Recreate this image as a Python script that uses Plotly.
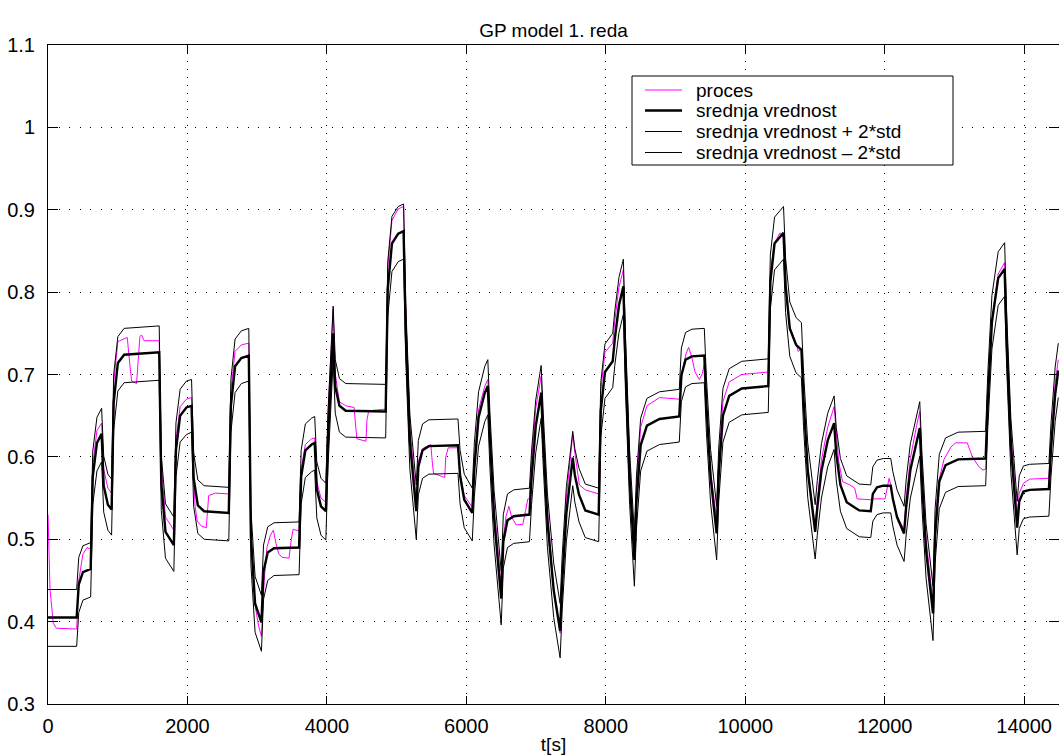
import plotly.graph_objects as go

# ---- time axis [s] shared by the three model curves (mean, mean +/- 2*std) ----
t_model = [
    0, 411,
    441, 501, 612,
    642, 702, 769,
    799, 859, 912,
    942, 1002, 1092, 1595,
    1625, 1685, 1805,
    1835, 1895, 1985, 2059,
    2089, 2149, 2239, 2593,
    2623, 2683, 2773, 2880,
    2910, 2970, 3061,
    3091, 3151, 3241, 3601,
    3631, 3691, 3781, 3825,
    3855, 3915, 3985,
    4015, 4075, 4090,
    4120, 4180, 4270, 4843,
    4873, 4933, 5023, 5100,
    5130, 5190, 5282,
    5312, 5372, 5462, 5880,
    5910, 5970, 6085,
    6115, 6175, 6265, 6308,
    6338, 6398, 6500,
    6530, 6590, 6680, 6905,
    6935, 6995, 7073,
    7103, 7163, 7253, 7345,
    7375, 7435, 7526,
    7556, 7616, 7706, 7898,
    7928, 7988, 8099,
    8129, 8189, 8252,
    8282, 8342, 8410,
    8440, 8500, 8590, 8770, 9054,
    9084, 9144, 9234, 9413,
    9443, 9503, 9590,
    9620, 9680, 9770, 9950, 10330,
    10360, 10420, 10549,
    10579, 10639, 10729, 10806,
    10836, 10896, 11003,
    11033, 11093, 11183, 11275,
    11305, 11365, 11455, 11635, 11800,
    11830, 11890, 11980, 12087,
    12117, 12177, 12278,
    12308, 12368, 12458, 12503,
    12533, 12593, 12693,
    12723, 12783, 12873, 13053, 13448,
    13478, 13538, 13628, 13720,
    13750, 13810, 13900,
    13930, 13990, 14080, 14355,
    14385, 14445, 14490,
]

# ---- srednja vrednost (model mean) ----
y_mean = [
    0.405, 0.405,
    0.445, 0.460, 0.464,
    0.576, 0.617, 0.628,
    0.565, 0.542, 0.536,
    0.666, 0.714, 0.724, 0.727,
    0.568, 0.509, 0.493,
    0.608, 0.650, 0.660, 0.662,
    0.574, 0.541, 0.534, 0.532,
    0.662, 0.710, 0.720, 0.723,
    0.503, 0.422, 0.399,
    0.461, 0.484, 0.489, 0.490,
    0.576, 0.608, 0.615, 0.617,
    0.561, 0.540, 0.534,
    0.620, 0.728, 0.750,
    0.685, 0.662, 0.656, 0.655,
    0.804, 0.859, 0.871, 0.874,
    0.755, 0.619, 0.534,
    0.588, 0.608, 0.613, 0.614,
    0.577, 0.548, 0.532,
    0.586, 0.648, 0.678, 0.686,
    0.622, 0.526, 0.428,
    0.497, 0.523, 0.528, 0.530,
    0.574, 0.637, 0.678,
    0.620, 0.522, 0.438, 0.389,
    0.448, 0.532, 0.599,
    0.578, 0.554, 0.535, 0.530,
    0.656, 0.703, 0.716,
    0.743, 0.784, 0.807,
    0.714, 0.575, 0.475,
    0.545, 0.614, 0.638, 0.646, 0.649,
    0.699, 0.718, 0.722, 0.723,
    0.663, 0.576, 0.507,
    0.579, 0.650, 0.674, 0.683, 0.686,
    0.812, 0.859, 0.872,
    0.808, 0.756, 0.736, 0.730,
    0.670, 0.584, 0.509,
    0.538, 0.583, 0.620, 0.641,
    0.604, 0.566, 0.545, 0.535, 0.534,
    0.555, 0.563, 0.565, 0.565,
    0.549, 0.527, 0.507,
    0.539, 0.584, 0.620, 0.635,
    0.574, 0.487, 0.410,
    0.504, 0.570, 0.590, 0.597, 0.598,
    0.667, 0.764, 0.817, 0.828,
    0.740, 0.614, 0.514,
    0.546, 0.558, 0.560, 0.561,
    0.609, 0.676, 0.705,
]

# ---- srednja vrednost + 2*std ----
y_upper = [
    0.439, 0.439,
    0.478, 0.492, 0.496,
    0.607, 0.648, 0.659,
    0.601, 0.579, 0.573,
    0.700, 0.746, 0.756, 0.759,
    0.601, 0.543, 0.527,
    0.641, 0.682, 0.692, 0.694,
    0.605, 0.572, 0.565, 0.563,
    0.694, 0.743, 0.753, 0.756,
    0.536, 0.455, 0.432,
    0.493, 0.515, 0.520, 0.521,
    0.608, 0.640, 0.647, 0.649,
    0.594, 0.574, 0.568,
    0.654, 0.762, 0.783,
    0.718, 0.695, 0.689, 0.688,
    0.837, 0.892, 0.904, 0.907,
    0.788, 0.651, 0.566,
    0.620, 0.640, 0.645, 0.646,
    0.608, 0.579, 0.562,
    0.617, 0.679, 0.710, 0.718,
    0.654, 0.559, 0.461,
    0.530, 0.555, 0.560, 0.562,
    0.607, 0.669, 0.711,
    0.653, 0.555, 0.471, 0.422,
    0.481, 0.564, 0.631,
    0.610, 0.586, 0.567, 0.562,
    0.690, 0.737, 0.750,
    0.777, 0.818, 0.840,
    0.747, 0.607, 0.507,
    0.577, 0.647, 0.671, 0.679, 0.682,
    0.732, 0.751, 0.755, 0.756,
    0.696, 0.609, 0.540,
    0.612, 0.683, 0.707, 0.716, 0.719,
    0.845, 0.891, 0.904,
    0.841, 0.788, 0.769, 0.763,
    0.703, 0.617, 0.542,
    0.571, 0.616, 0.653, 0.674,
    0.636, 0.598, 0.577, 0.567, 0.566,
    0.588, 0.596, 0.598, 0.598,
    0.582, 0.560, 0.540,
    0.572, 0.616, 0.652, 0.667,
    0.607, 0.519, 0.443,
    0.537, 0.603, 0.623, 0.630, 0.631,
    0.700, 0.796, 0.849, 0.860,
    0.772, 0.646, 0.546,
    0.577, 0.589, 0.591, 0.592,
    0.640, 0.709, 0.738,
]

# ---- srednja vrednost - 2*std ----
y_lower = [
    0.370, 0.370,
    0.411, 0.426, 0.430,
    0.542, 0.583, 0.594,
    0.533, 0.511, 0.505,
    0.633, 0.680, 0.690, 0.693,
    0.535, 0.477, 0.461,
    0.576, 0.618, 0.627, 0.630,
    0.540, 0.507, 0.500, 0.498,
    0.630, 0.678, 0.689, 0.692,
    0.469, 0.387, 0.364,
    0.427, 0.450, 0.456, 0.457,
    0.543, 0.575, 0.582, 0.584,
    0.526, 0.505, 0.499,
    0.587, 0.696, 0.718,
    0.653, 0.630, 0.624, 0.623,
    0.771, 0.825, 0.837, 0.840,
    0.721, 0.585, 0.500,
    0.554, 0.574, 0.579, 0.580,
    0.543, 0.514, 0.498,
    0.552, 0.613, 0.643, 0.651,
    0.587, 0.493, 0.396,
    0.465, 0.490, 0.495, 0.497,
    0.542, 0.605, 0.647,
    0.589, 0.490, 0.405, 0.356,
    0.415, 0.498, 0.565,
    0.545, 0.521, 0.502, 0.497,
    0.624, 0.671, 0.684,
    0.711, 0.751, 0.773,
    0.681, 0.542, 0.443,
    0.513, 0.583, 0.607, 0.615, 0.618,
    0.667, 0.685, 0.689, 0.690,
    0.630, 0.544, 0.475,
    0.547, 0.618, 0.642, 0.651, 0.654,
    0.780, 0.827, 0.840,
    0.775, 0.722, 0.702, 0.696,
    0.637, 0.551, 0.476,
    0.505, 0.550, 0.588, 0.609,
    0.572, 0.534, 0.513, 0.503, 0.502,
    0.522, 0.530, 0.532, 0.532,
    0.516, 0.493, 0.473,
    0.505, 0.550, 0.586, 0.601,
    0.541, 0.453, 0.377,
    0.471, 0.537, 0.557, 0.564, 0.565,
    0.634, 0.731, 0.784, 0.795,
    0.707, 0.581, 0.481,
    0.513, 0.525, 0.527, 0.528,
    0.576, 0.643, 0.672,
]

# ---- proces (measured process output) ----
t_proc = [
    0, 29, 76, 120, 411,
    441, 501, 560, 612,
    642, 702, 769,
    799, 859, 912,
    942, 1002, 1137, 1170, 1200, 1270, 1300, 1318, 1340, 1380, 1595,
    1625, 1685, 1805,
    1835, 1895, 1985, 2059,
    2085, 2110, 2140, 2200, 2270, 2290, 2305, 2400, 2593,
    2623, 2683, 2773, 2880,
    2910, 2970, 3020, 3061,
    3100, 3140, 3190, 3232, 3270, 3310, 3360, 3457, 3490, 3515, 3601,
    3631, 3691, 3781, 3825,
    3855, 3915, 3985,
    4015, 4075, 4090,
    4120, 4180, 4270, 4390, 4410, 4430, 4560, 4575, 4600, 4843,
    4873, 4933, 5023, 5100,
    5130, 5190, 5282,
    5312, 5372, 5490, 5510, 5530, 5690, 5705, 5740, 5880,
    5910, 5970, 6085,
    6115, 6175, 6265, 6308,
    6338, 6398, 6500,
    6530, 6570, 6610, 6650, 6715, 6810, 6850, 6882, 6905,
    6935, 6995, 7073,
    7103, 7163, 7253, 7345,
    7375, 7435, 7526,
    7556, 7621, 7706, 7898,
    7928, 7988, 8099,
    8129, 8189, 8252,
    8282, 8342, 8410,
    8440, 8500, 8590, 8770, 9054,
    9100, 9150, 9188, 9230, 9280, 9341, 9380, 9413,
    9443, 9503, 9590,
    9620, 9680, 9770, 9950, 10330,
    10360, 10420, 10500, 10549,
    10579, 10639, 10729, 10760, 10806,
    10836, 10896, 11003,
    11033, 11093, 11183, 11275,
    11305, 11340, 11395, 11500, 11570, 11605, 11800,
    11830, 12005, 12030, 12063, 12087,
    12117, 12177, 12278,
    12308, 12368, 12458, 12503,
    12533, 12593, 12693,
    12723, 12779, 12851, 12950, 13019, 13185, 13257, 13352, 13410, 13448,
    13478, 13538, 13628, 13720,
    13750, 13810, 13900,
    13930, 13990, 14080, 14355,
    14385, 14445, 14490,
]
y_proc = [
    0.530, 0.439, 0.398, 0.392, 0.391,
    0.450, 0.482, 0.490, 0.488,
    0.590, 0.632, 0.641,
    0.585, 0.562, 0.556,
    0.690, 0.740, 0.745, 0.715, 0.692, 0.689, 0.720, 0.746, 0.748, 0.741, 0.741,
    0.589, 0.527, 0.511,
    0.620, 0.661, 0.670, 0.672,
    0.585, 0.540, 0.522, 0.516, 0.514, 0.535, 0.553, 0.556, 0.555,
    0.680, 0.728, 0.736, 0.738,
    0.510, 0.420, 0.395, 0.382,
    0.450, 0.490, 0.505, 0.511, 0.495, 0.482, 0.478, 0.477, 0.500, 0.512, 0.510,
    0.585, 0.615, 0.622, 0.623,
    0.570, 0.550, 0.545,
    0.650, 0.758, 0.779,
    0.700, 0.667, 0.662, 0.660, 0.640, 0.622, 0.619, 0.645, 0.656, 0.658,
    0.830, 0.887, 0.901, 0.904,
    0.780, 0.637, 0.546,
    0.595, 0.610, 0.615, 0.595, 0.580, 0.575, 0.600, 0.611, 0.611,
    0.580, 0.553, 0.539,
    0.595, 0.657, 0.686, 0.694,
    0.632, 0.539, 0.443,
    0.500, 0.528, 0.540, 0.527, 0.5175, 0.518, 0.535, 0.549, 0.549,
    0.594, 0.659, 0.698,
    0.636, 0.535, 0.440, 0.386,
    0.455, 0.551, 0.627,
    0.605, 0.566, 0.560, 0.555,
    0.680, 0.727, 0.738,
    0.765, 0.806, 0.827,
    0.735, 0.590, 0.490,
    0.565, 0.636, 0.662, 0.672, 0.670,
    0.705, 0.725, 0.733, 0.722, 0.703, 0.694, 0.700, 0.712,
    0.657, 0.582, 0.524,
    0.595, 0.667, 0.691, 0.700, 0.703,
    0.823, 0.860, 0.872, 0.866,
    0.805, 0.757, 0.738, 0.728, 0.731,
    0.671, 0.587, 0.515,
    0.547, 0.596, 0.636, 0.661,
    0.625, 0.595, 0.570, 0.566, 0.562, 0.549, 0.548,
    0.549, 0.549, 0.560, 0.574, 0.566,
    0.550, 0.528, 0.512,
    0.550, 0.598, 0.638, 0.655,
    0.590, 0.501, 0.4215,
    0.520, 0.572, 0.597, 0.612, 0.617, 0.617, 0.600, 0.588, 0.584, 0.585,
    0.660, 0.766, 0.822, 0.836,
    0.749, 0.628, 0.528,
    0.556, 0.568, 0.573, 0.574,
    0.620, 0.690, 0.718,
]

for name, ys, ts in (("mean", y_mean, t_model), ("upper", y_upper, t_model),
                     ("lower", y_lower, t_model), ("proces", y_proc, t_proc)):
    if len(ys) != len(ts):
        raise ValueError(f"{name}: {len(ys)} values for {len(ts)} times")

FONT = "Liberation Sans, Arial, Helvetica, sans-serif"

# Trace styles, in drawing / legend order
series = [
    ("proces", t_proc, y_proc, "#ff00ff", 1.0),
    ("srednja vrednost", t_model, y_mean, "black", 2.4),
    ("srednja vrednost + 2*std", t_model, y_upper, "black", 1.0),
    ("srednja vrednost \u2013 2*std", t_model, y_lower, "black", 1.0),
]

fig = go.Figure()
for name, xs, ys, color, width in series:
    fig.add_trace(go.Scatter(x=xs, y=ys, mode="lines", name=name,
                             line=dict(color=color, width=width),
                             showlegend=False))

# Plot-area geometry (pixels) used to place the boxed legend in paper units
W, H = 1059, 755
ML, MR, MT, MB = 48, 0, 45, 51
PW, PH = W - ML - MR, H - MT - MB


def px_x(px):
    return (px - ML) / PW


def px_y(py):
    return (H - MB - py) / PH


shapes = [dict(type="rect", xref="paper", yref="paper",
               x0=px_x(632), x1=px_x(953), y0=px_y(165), y1=px_y(76),
               line=dict(color="black", width=1), fillcolor="white", layer="above")]
annotations = []
row_y = [90, 110.5, 131.5, 152.5]
for (name, _, _, color, width), ry in zip(series, row_y):
    shapes.append(dict(type="line", xref="paper", yref="paper",
                       x0=px_x(645), x1=px_x(682), y0=px_y(ry), y1=px_y(ry),
                       line=dict(color=color, width=width), layer="above"))
    annotations.append(dict(text=name, xref="paper", yref="paper",
                            x=px_x(694), y=px_y(ry), xanchor="left", yanchor="middle",
                            showarrow=False,
                            font=dict(family=FONT, size=19, color="black")))

fig.update_layout(
    width=W, height=H,
    margin=dict(l=ML, r=MR, t=MT, b=MB),
    paper_bgcolor="white", plot_bgcolor="white",
    font=dict(family=FONT, size=18, color="black"),
    title=dict(text="GP model 1. reda", x=0.5, xref="paper",
               y=1 - 30 / H, yref="container", yanchor="middle",
               font=dict(family=FONT, size=19, color="black")),
    showlegend=False,
    shapes=shapes,
    annotations=annotations,
)

fig.update_xaxes(
    range=[0, 14500], tick0=0, dtick=2000, tickformat="d",
    showline=True, linecolor="black", linewidth=1, mirror="ticks",
    ticks="inside", ticklen=8, tickcolor="black", tickwidth=1,
    showgrid=True, gridcolor="black", gridwidth=1, griddash="1px,7px",
    zeroline=False, ticklabelstandoff=4,
    tickfont=dict(family=FONT, size=20, color="black"),
    title=dict(text="t[s]", standoff=2, font=dict(family=FONT, size=19, color="black")),
)
fig.update_yaxes(
    range=[0.3, 1.1], tick0=0.3, dtick=0.1,
    showline=True, linecolor="black", linewidth=1, mirror="ticks",
    ticks="inside", ticklen=10, tickcolor="black", tickwidth=1,
    showgrid=True, gridcolor="black", gridwidth=1, griddash="1px,9.5px",
    zeroline=False, ticklabelstandoff=8,
    tickfont=dict(family=FONT, size=20, color="black"),
)

fig.write_html("out.html")
